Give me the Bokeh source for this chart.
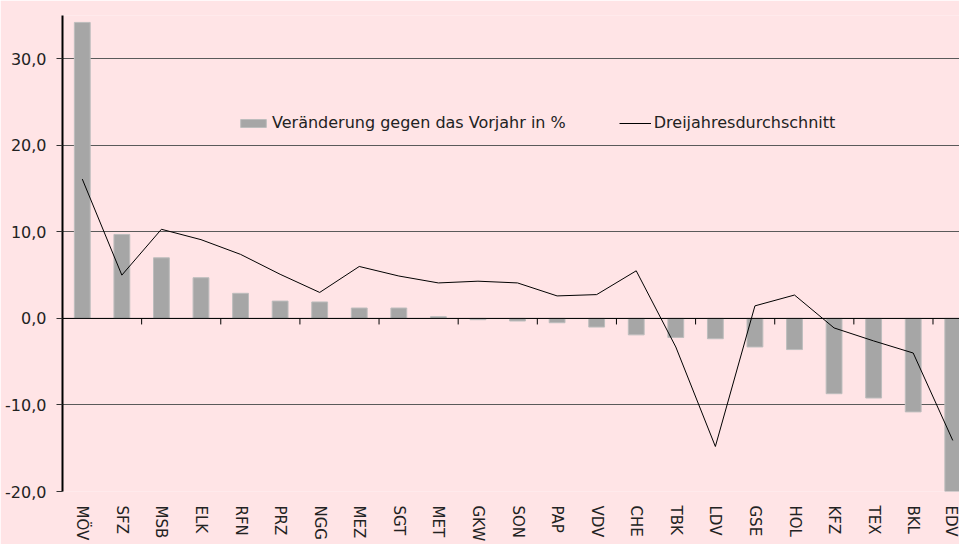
from bokeh.plotting import figure
from bokeh.models import FixedTicker, Span, Legend, LegendItem, ColumnDataSource, Range1d
from bokeh.embed import file_html
from bokeh.resources import INLINE

categories = ["MÖV", "SFZ", "MSB", "ELK", "RFN", "PRZ", "NGG", "MEZ", "SGT", "MET", "GKW", "SON",
              "PAP", "VDV", "CHE", "TBK", "LDV", "GSE", "HOL", "KFZ", "TEX", "BKL", "EDV"]
change_pct = [34.2, 9.7, 7.0, 4.7, 2.9, 2.0, 1.9, 1.2, 1.2, 0.2, -0.15, -0.3,
              -0.5, -1.0, -1.9, -2.2, -2.35, -3.3, -3.6, -8.7, -9.2, -10.8, -20.0]
three_year_avg = [16.1, 5.0, 10.3, 9.1, 7.4, 5.1, 3.0, 6.0, 4.9, 4.1, 4.3, 4.1,
                  2.6, 2.75, 5.5, -3.3, -14.8, 1.45, 2.7, -1.1, -2.6, -4.0, -14.1]
y_ticks = [-20, -10, 0, 10, 20, 30]

BG = "#FFE4E6"
FONT = "DejaVu Sans"
TXT = "#222222"
FS = "16px"

xs = list(range(len(categories)))
src = ColumnDataSource(dict(x=xs, cat=categories, val=change_pct, avg=three_year_avg))

p = figure(width=959, height=544, x_range=Range1d(-0.5, 22.17), y_range=Range1d(-20, 35),
           output_backend="svg", toolbar_location=None,
           min_border_left=62, min_border_right=0, min_border_top=15, min_border_bottom=51,
           background_fill_color=BG, border_fill_color=BG, outline_line_color=None)

bars = p.vbar(x="x", top="val", bottom=0, width=0.4, source=src,
              fill_color="#A6A6A6", line_color="#BDBDBD", line_width=1)
line = p.line(x="x", y="avg", source=src, line_color="black", line_width=1)

# zero line and category-axis ticks (every second category boundary)
p.add_layout(Span(location=0, dimension="width", line_color="black", line_width=1))
bounds = [i + 0.5 for i in range(1, len(categories) - 1, 2)]
p.segment(x0=bounds, y0=[0] * len(bounds), x1=bounds, y1=[-0.7] * len(bounds),
          line_color="black", line_width=1)

# x axis (labels only)
xa = p.xaxis[0]
xa.ticker = FixedTicker(ticks=xs, minor_ticks=[])
xa.major_label_overrides = {i: c for i, c in zip(xs, categories)}
xa.major_label_orientation = "vertical"
xa.axis_line_color = None
xa.major_tick_line_color = None
xa.minor_tick_line_color = None
xa.major_tick_out = 0
xa.major_tick_in = 0
xa.major_label_standoff = 14
xa.major_label_text_font = FONT
xa.major_label_text_font_size = "15px"
xa.major_label_text_color = TXT
p.xgrid.visible = False

# y axis
ya = p.yaxis[0]
ya.ticker = FixedTicker(ticks=y_ticks, minor_ticks=[])
ya.major_label_overrides = {t: f"{t:.1f}".replace(".", ",") for t in y_ticks}
ya.axis_line_color = "black"
ya.axis_line_width = 2
ya.major_tick_out = 6
ya.major_tick_in = 0
ya.major_tick_line_color = "#333333"
ya.minor_tick_line_color = None
ya.major_label_standoff = 10
ya.major_label_text_font = FONT
ya.major_label_text_font_size = FS
ya.major_label_text_color = TXT
p.ygrid.ticker = FixedTicker(ticks=y_ticks)
p.ygrid.grid_line_color = "#5A5A5A"
p.ygrid.grid_line_width = 1

legend = Legend(items=[LegendItem(label="Veränderung gegen das Vorjahr in %", renderers=[bars]),
                       LegendItem(label="Dreijahresdurchschnitt", renderers=[line])],
                location=(175, 359), orientation="horizontal",
                background_fill_alpha=0, border_line_color=None,
                glyph_width=32, glyph_height=10, label_standoff=3, spacing=53,
                padding=0, margin=0, label_text_font=FONT, label_text_font_size=FS,
                label_text_color=TXT)
p.add_layout(legend)

open("out.html", "w").write(file_html(p, INLINE))
